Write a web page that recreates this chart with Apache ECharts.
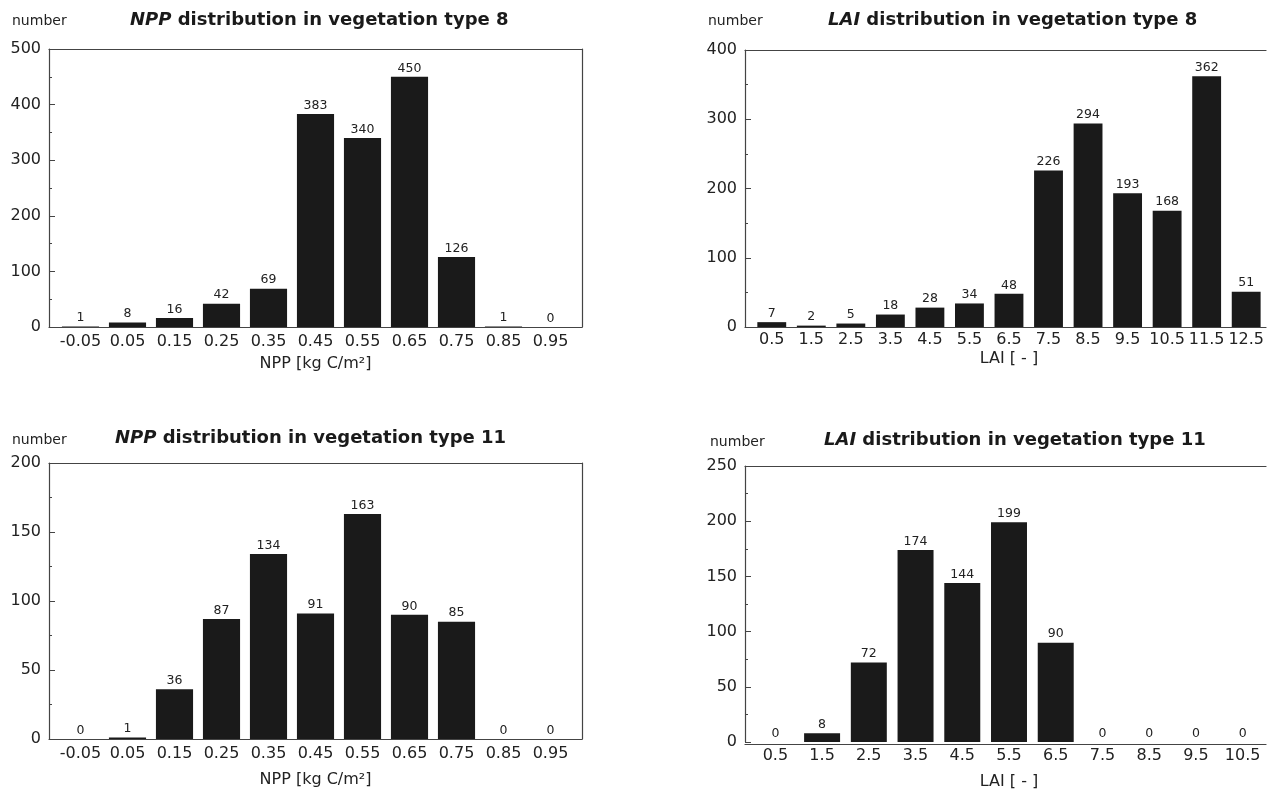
<!DOCTYPE html>
<html>
<head>
<meta charset="utf-8">
<script src="https://cdn.jsdelivr.net/npm/echarts@6/dist/echarts.min.js"></script>
<style>
  html, body { margin: 0; padding: 0; background: #fff; }
  #main { width: 1267px; height: 791px; }
</style>
</head>
<body>
<div id="main"></div>
<script>
  var chart = echarts.init(document.getElementById('main'));

  // categories (bin centres)
  var nppBins = ['-0.05', '0.05', '0.15', '0.25', '0.35', '0.45', '0.55', '0.65', '0.75', '0.85', '0.95'];
  var laiBins8 = ['0.5', '1.5', '2.5', '3.5', '4.5', '5.5', '6.5', '7.5', '8.5', '9.5', '10.5', '11.5', '12.5'];
  var laiBins11 = ['0.5', '1.5', '2.5', '3.5', '4.5', '5.5', '6.5', '7.5', '8.5', '9.5', '10.5'];

  // counts per bin
  var npp8 = [1, 8, 16, 42, 69, 383, 340, 450, 126, 1, 0];
  var lai8 = [7, 2, 5, 18, 28, 34, 48, 226, 294, 193, 168, 362, 51];
  var npp11 = [0, 1, 36, 87, 134, 91, 163, 90, 85, 0, 0];
  var lai11 = [0, 8, 72, 174, 144, 199, 90, 0, 0, 0, 0];

  var font = 'DejaVu Sans, Verdana, sans-serif';
  var ink = '#1a1a1a';
  var lineCol = '#444';

  // frame = box drawn around the plot, dl/dr = where the bins start/end
  var panels = [
    { frame: [49, 49, 582, 327], dl: 57, dr: 574, cats: nppBins, data: npp8, max: 500, step: 100,
      xname: 'NPP [kg C/m²]', nameGap: 29, lblMargin: 7, gap: '21%', rightLine: true },
    { frame: [745, 50, 1266, 327], dl: 752, dr: 1266, cats: laiBins8, data: lai8, max: 400, step: 100,
      xname: 'LAI [ - ]', nameGap: 24, lblMargin: 5, gap: '27%', rightLine: false },
    { frame: [49, 463, 582, 739], dl: 57, dr: 574, cats: nppBins, data: npp11, max: 200, step: 50,
      xname: 'NPP [kg C/m²]', nameGap: 33, lblMargin: 7, gap: '21%', rightLine: true },
    { frame: [745, 466, 1266, 744], dl: 752, dr: 1266, cats: laiBins11, data: lai11, max: 250, step: 50,
      xname: 'LAI [ - ]', nameGap: 32, lblMargin: 6, gap: '23%', rightLine: false }
  ];

  var grids = [], xAxes = [], yAxes = [], series = [];
  function lineAxis(gi, pos, show) {
    return {
      type: 'value', gridIndex: gi, position: pos, min: 0, max: 1,
      axisLine: { show: show, onZero: false, lineStyle: { color: lineCol, width: 1.2 } },
      axisTick: { show: false }, axisLabel: { show: false }, splitLine: { show: false }
    };
  }

  panels.forEach(function (p) {
    var f = p.frame;
    // frame grid: lines only
    var fg = grids.length;
    grids.push({ left: f[0], top: f[1], width: f[2] - f[0], height: f[3] - f[1] });
    xAxes.push(lineAxis(fg, 'bottom', true));
    xAxes.push(lineAxis(fg, 'top', true));
    yAxes.push(lineAxis(fg, 'right', p.rightLine));

    // data grid
    var dg = grids.length;
    grids.push({ left: p.dl, top: f[1], width: p.dr - p.dl, height: f[3] - f[1] });
    xAxes.push({
      type: 'category', gridIndex: dg, data: p.cats,
      axisLine: { show: false },
      axisTick: { show: false },
      axisLabel: { color: '#222', fontSize: 16, fontFamily: font, margin: p.lblMargin, interval: 0 },
      name: p.xname, nameLocation: 'middle', nameGap: p.nameGap,
      nameTextStyle: { color: '#222', fontSize: 16, fontFamily: font }
    });
    yAxes.push({
      type: 'value', gridIndex: dg, min: 0, max: p.max, interval: p.step,
      offset: p.dl - f[0],
      axisLine: { show: true, lineStyle: { color: lineCol, width: 1.2 } },
      axisTick: { show: true, inside: true, length: 6, lineStyle: { color: lineCol } },
      minorTick: { show: true, splitNumber: 2, length: 3, lineStyle: { color: lineCol } },
      axisLabel: { color: '#222', fontSize: 16, fontFamily: font, margin: 8 },
      splitLine: { show: false }
    });
    series.push({
      type: 'bar',
      xAxisIndex: xAxes.length - 1,
      yAxisIndex: yAxes.length - 1,
      data: p.data,
      barCategoryGap: p.gap,
      itemStyle: { color: ink },
      label: { show: true, position: 'top', distance: 2, color: '#222', fontSize: 12.5, fontFamily: font },
      silent: true
    });
  });

  function titleItem(v, txt, left, top) {
    return {
      text: '{i|' + v + '} ' + txt, left: left, top: top, padding: 0,
      textStyle: {
        fontFamily: font, fontSize: 18, fontWeight: 'bold', color: '#1a1a1a',
        rich: { i: { fontFamily: font, fontSize: 18, fontWeight: 'bold', fontStyle: 'italic', color: '#1a1a1a' } }
      }
    };
  }
  function numberLabel(left, top) {
    return { text: 'number', left: left, top: top, padding: 0,
      textStyle: { fontFamily: font, fontSize: 14, fontWeight: 'normal', color: '#222' } };
  }

  chart.setOption({
    animation: false,
    backgroundColor: '#fff',
    title: [
      titleItem('NPP', 'distribution in vegetation type 8', 130, 11),
      titleItem('LAI', 'distribution in vegetation type 8', 828, 11),
      titleItem('NPP', 'distribution in vegetation type 11', 115, 429),
      titleItem('LAI', 'distribution in vegetation type 11', 824, 431),
      numberLabel(12, 14),
      numberLabel(708, 14),
      numberLabel(12, 433),
      numberLabel(710, 435)
    ],
    grid: grids,
    xAxis: xAxes,
    yAxis: yAxes,
    series: series
  });
</script>
</body>
</html>
